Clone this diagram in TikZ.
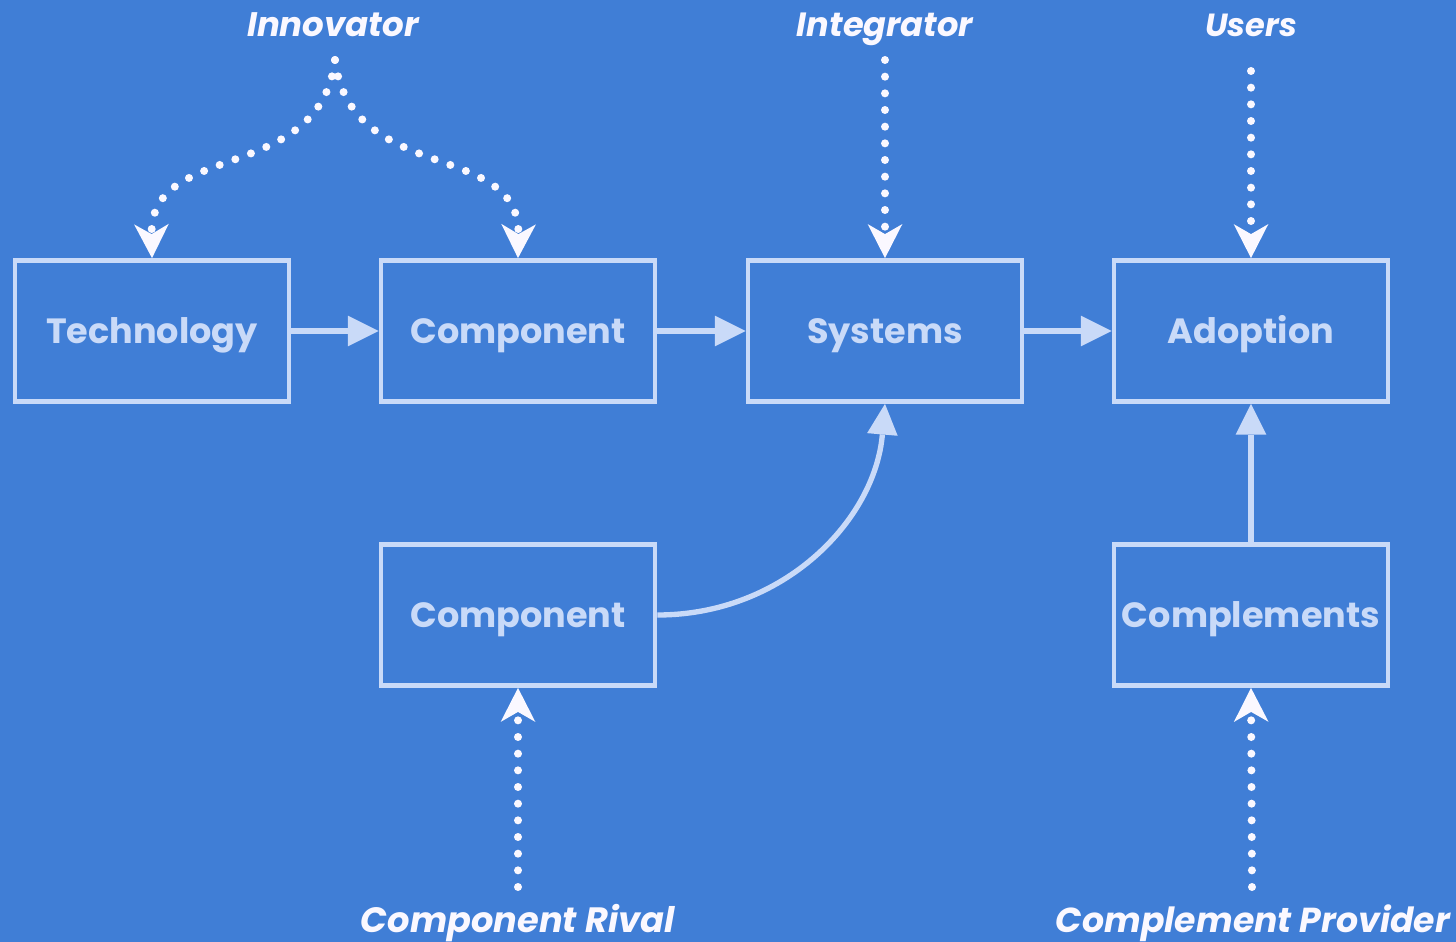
\documentclass[tikz,border=0pt]{standalone}
\usepackage{fontspec}
\setmainfont{Poppins}
\usetikzlibrary{arrows.meta}
\definecolor{bg}{HTML}{407ED6}
\definecolor{pale}{HTML}{C9DAF8}
\definecolor{labc}{HTML}{FAF8FF}
\newcommand{\labfont}[1]{\fontsize{#1}{30}\selectfont\bfseries\itshape}
\begin{document}
\begin{tikzpicture}[x=0.75pt,y=-0.75pt,
 box/.style={draw=pale,line width=3.6pt,minimum width=205.5pt,minimum height=105.75pt,inner sep=0pt,text=pale,text height=18.4pt,text depth=0pt,font=\fontsize{26.3}{30}\selectfont\bfseries},
 lab/.style={text=labc,anchor=base,font=\labfont{26},inner sep=0pt},
 flow/.style={draw=pale,line width=4pt,-{Triangle[length=23pt,width=23pt,line width=0pt]}},
 dots/.style={draw=labc,line width=6pt,line cap=round,dash pattern=on 0pt off 12.5pt,-{Stealth[length=25.5pt,width=26pt,inset=7.5pt,line width=0pt]}}]
\path[use as bounding box,fill=bg] (0,0) rectangle (1456,942);

\node[box] (tech) at (152,331) {Technology};
\node[box] (c1) at (518,331) {Component};
\node[box] (sys) at (885,331) {Systems};
\node[box] (adp) at (1251,331) {Adoption};
\node[box] (c2) at (518,615) {Component};
\node[box] (cmp) at (1251,615) {Complements};

\node[lab,font=\labfont{25.5}] (inn) at (333,37) {Innovator};
\node[lab,font=\labfont{25.2}] (int) at (885,37) {Integrator};
\node[lab,font=\labfont{24}] (usr) at (1251,37) {Users};
\node[lab,font=\labfont{26.4}] (riv) at (518,932) {Component Rival};
\node[lab,font=\labfont{26}] (cpv) at (1253,932) {Complement Provider};

\coordinate (innS) at (335,60);
\coordinate (intS) at (885,60);
\coordinate (usrS) at (1251,71);
\coordinate (rivS) at (518,887);
\coordinate (cpvS) at (1252,887);

\draw[dots] (innS) .. controls (320,185) and (150,140) .. (tech.north);
\draw[dots] (innS) .. controls (350,185) and (520,140) .. (c1.north);
\draw[dots] (intS) -- (sys.north);
\draw[dots] (usrS) -- (adp.north);
\draw[dots] (rivS) -- (c2.south);
\draw[dots] (cpvS) -- (cmp.south);

\draw[flow] (tech.east) -- (c1.west);
\draw[flow] (c1.east) -- (sys.west);
\draw[flow] (sys.east) -- (adp.west);
\draw[flow] (cmp.north) -- (adp.south);
\draw[flow] (c2.east) .. controls (784,615) and (875,520) .. (sys.south);
\end{tikzpicture}
\end{document}
